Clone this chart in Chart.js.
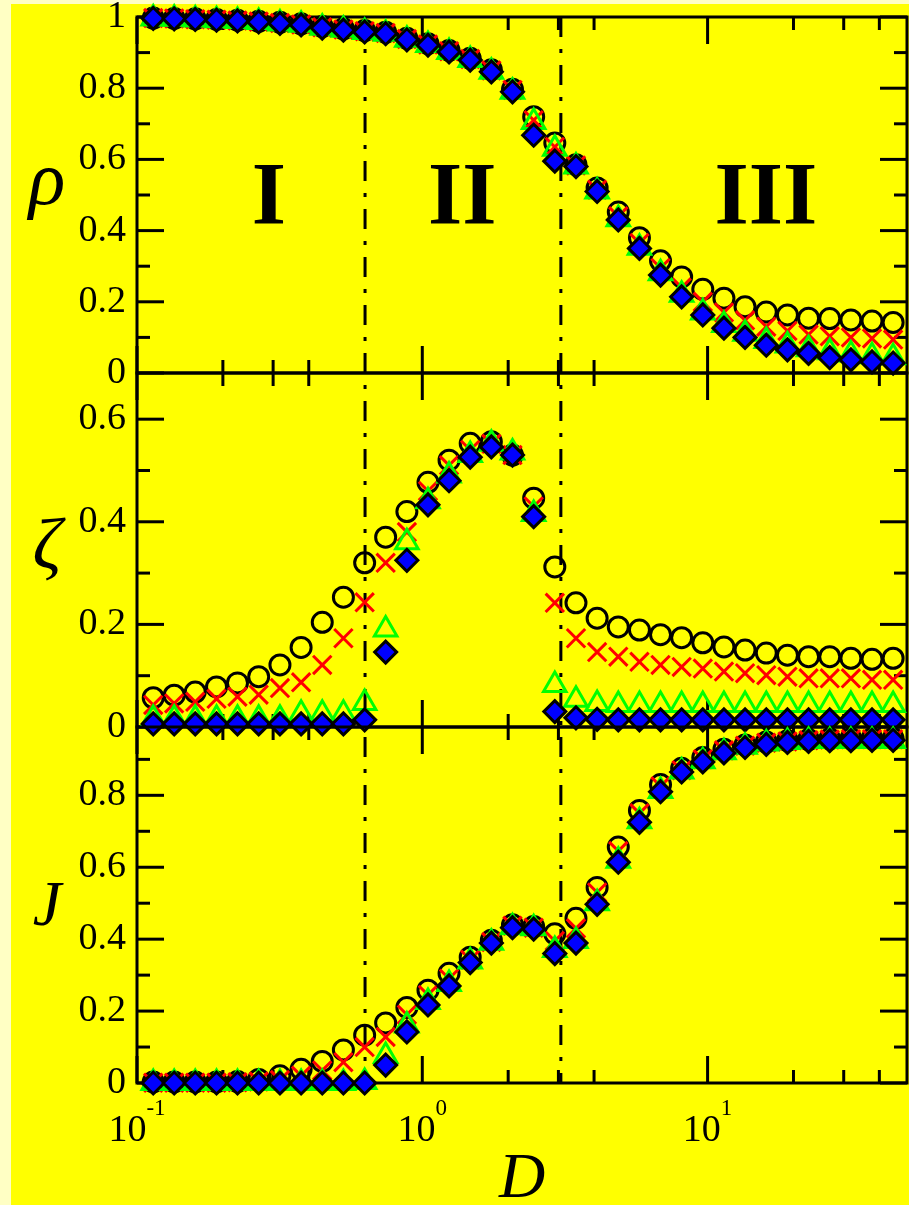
<!DOCTYPE html>
<html>
<head>
<meta charset="utf-8">
<script src="https://cdn.jsdelivr.net/npm/chart.js@4"></script>
<style>
  html, body { margin: 0; padding: 0; }
  body { width: 909px; height: 1205px; background: #ffffc4; overflow: hidden; position: relative; }
  #bg { position: absolute; left: 11px; top: 4px; right: 0; bottom: 0; background: #ffff00; }
  canvas { position: absolute; left: 0; top: -100px; }
</style>
</head>
<body>
<div id="bg"></div>
<canvas id="panelRho" width="909" height="1405"></canvas>
<canvas id="panelZeta" width="909" height="1405"></canvas>
<canvas id="panelJ" width="909" height="1405"></canvas>
<script>
// ─── data ───
const D = [0.114, 0.135, 0.160, 0.190, 0.225, 0.267, 0.317, 0.376, 0.446, 0.529,
           0.628, 0.744, 0.883, 1.047, 1.241, 1.472, 1.746, 2.071, 2.457, 2.914,
           3.457, 4.10, 4.864, 5.77, 6.84, 8.11, 9.62, 11.41, 13.53, 16.06,
           19.05, 22.59, 26.80, 31.79, 37.7, 44.7];

const rhoCircle = [0.997, 0.996, 0.995, 0.993, 0.991, 0.988, 0.985, 0.981, 0.973, 0.967,
                   0.962, 0.957, 0.94, 0.925, 0.906, 0.884, 0.852, 0.797, 0.72, 0.646,
                   0.585, 0.52, 0.452, 0.38, 0.315, 0.27, 0.235, 0.21, 0.186, 0.171,
                   0.163, 0.154, 0.153, 0.149, 0.146, 0.142];
const rhoCross = [0.997, 0.996, 0.994, 0.992, 0.99, 0.987, 0.983, 0.979, 0.971, 0.965,
                  0.96, 0.955, 0.938, 0.923, 0.904, 0.882, 0.85, 0.795, 0.71, 0.635,
                  0.583, 0.515, 0.44, 0.365, 0.295, 0.24, 0.2, 0.17, 0.148, 0.13,
                  0.118, 0.108, 0.103, 0.1, 0.097, 0.094];
const rhoTriangle = [0.996, 0.995, 0.993, 0.991, 0.989, 0.986, 0.982, 0.978, 0.97, 0.964,
                     0.958, 0.953, 0.936, 0.921, 0.902, 0.879, 0.846, 0.79, 0.705, 0.63,
                     0.58, 0.51, 0.432, 0.352, 0.28, 0.22, 0.17, 0.135, 0.11, 0.09,
                     0.077, 0.067, 0.058, 0.052, 0.047, 0.044];
const rhoDiamond = [0.996, 0.995, 0.993, 0.991, 0.989, 0.986, 0.982, 0.978, 0.969, 0.963,
                    0.958, 0.953, 0.936, 0.921, 0.902, 0.879, 0.846, 0.79, 0.668, 0.595,
                    0.58, 0.51, 0.43, 0.35, 0.275, 0.214, 0.163, 0.126, 0.10, 0.078,
                    0.065, 0.055, 0.043, 0.037, 0.031, 0.028];

const zetaCircle = [0.057, 0.062, 0.068, 0.078, 0.086, 0.098, 0.121, 0.155, 0.204, 0.253,
                    0.32, 0.37, 0.42, 0.477, 0.52, 0.553, 0.556, 0.53, 0.446, 0.312,
                    0.242, 0.212, 0.195, 0.189, 0.18, 0.174, 0.164, 0.156, 0.15, 0.144,
                    0.14, 0.137, 0.137, 0.134, 0.132, 0.134];
const zetaCross = [0.043, 0.046, 0.049, 0.055, 0.059, 0.063, 0.076, 0.087, 0.121, 0.173,
                   0.243, 0.32, 0.38, 0.46, 0.51, 0.54, 0.552, 0.53, 0.43, 0.242,
                   0.173, 0.146, 0.137, 0.127, 0.121, 0.117, 0.114, 0.108, 0.105, 0.101,
                   0.098, 0.095, 0.095, 0.095, 0.092, 0.092];
const zetaTriangle = [0.016, 0.016, 0.016, 0.016, 0.016, 0.016, 0.016, 0.026, 0.026, 0.026,
                      0.047, 0.19, 0.36, 0.44, 0.49, 0.53, 0.552, 0.535, 0.415, 0.082,
                      0.053, 0.045, 0.043, 0.043, 0.043, 0.043, 0.043, 0.043, 0.043, 0.043,
                      0.043, 0.043, 0.043, 0.043, 0.043, 0.043];
const zetaDiamond = [0.006, 0.006, 0.006, 0.006, 0.006, 0.006, 0.006, 0.006, 0.006, 0.006,
                     0.014, 0.146, 0.325, 0.433, 0.48, 0.526, 0.546, 0.53, 0.41, 0.03,
                     0.018, 0.015, 0.014, 0.014, 0.014, 0.014, 0.014, 0.014, 0.014, 0.014,
                     0.014, 0.014, 0.014, 0.014, 0.014, 0.014];

const jCircle = [0.003, 0.003, 0.003, 0.003, 0.004, 0.01, 0.02, 0.038, 0.06, 0.092,
                 0.133, 0.167, 0.21, 0.258, 0.305, 0.35, 0.397, 0.44, 0.435, 0.415,
                 0.458, 0.544, 0.656, 0.758, 0.83, 0.875, 0.905, 0.928, 0.94, 0.948,
                 0.952, 0.955, 0.957, 0.958, 0.958, 0.958];
const jCross = [0.001, 0.001, 0.001, 0.001, 0.002, 0.004, 0.008, 0.02, 0.035, 0.058,
                0.1, 0.128, 0.19, 0.245, 0.29, 0.343, 0.392, 0.437, 0.432, 0.395,
                0.43, 0.53, 0.645, 0.75, 0.825, 0.87, 0.9, 0.925, 0.938, 0.946,
                0.95, 0.953, 0.955, 0.956, 0.956, 0.956];
const jTriangle = [0, 0, 0, 0, 0, 0, 0, 0, 0, 0,
                   0.003, 0.075, 0.16, 0.225, 0.275, 0.338, 0.39, 0.433, 0.43, 0.37,
                   0.395, 0.5, 0.618, 0.728, 0.812, 0.866, 0.895, 0.92, 0.935, 0.944,
                   0.948, 0.951, 0.951, 0.951, 0.951, 0.951];
const jDiamond = [0, 0, 0, 0, 0, 0, 0, 0, 0, 0,
                  0, 0.05, 0.142, 0.217, 0.27, 0.335, 0.389, 0.432, 0.428, 0.36,
                  0.389, 0.497, 0.614, 0.725, 0.81, 0.865, 0.893, 0.918, 0.933, 0.942,
                  0.947, 0.95, 0.952, 0.952, 0.953, 0.953];

// ─── ticks ───
const xMajor = [0.1, 1, 10];
const xExponent = ['-1', '0', '1'];
const xMinor = [0.2, 0.3, 0.4, 2, 3, 4, 20, 30, 40];
const rhoTicks = [0, 0.2, 0.4, 0.6, 0.8, 1];
const rhoMinor = [0.1, 0.3, 0.5, 0.7, 0.9];
const zetaTicks = [0, 0.2, 0.4, 0.6];
const zetaMinor = [0.1, 0.3, 0.5];
const jTicks = [0, 0.2, 0.4, 0.6, 0.8];
const jMinor = [0.1, 0.3, 0.5, 0.7, 0.9];

// phase boundaries and region names
const phaseBounds = [0.63, 3.06];
const regionNames = ['I', 'II', 'III'];
const regionD = [0.29, 1.38, 16];

// ─── layout ───
const SHIFT = 100;          // canvases start 100px above the page
const CANVAS_H = 1405;
const TOP_OF_FRAME = 17;
const SERIF = '"Liberation Serif", "DejaVu Serif", serif';

const markers = [
    { pointStyle: 'circle',   radius: 10, borderColor: '#000000', backgroundColor: 'transparent' },
    { pointStyle: 'crossRot', radius: 13, borderColor: '#ff0000', backgroundColor: '#ff0000' },
    { pointStyle: 'triangle', radius: 13, borderColor: '#00ff00', backgroundColor: 'transparent' },
    { pointStyle: 'rectRot',  radius: 11, borderColor: '#000000', backgroundColor: '#0000ff' }
];

const line = (ctx, x1, y1, x2, y2) => {
    ctx.beginPath();
    ctx.moveTo(x1, y1);
    ctx.lineTo(x2, y2);
    ctx.stroke();
};

// frame, inward ticks, dash-dot boundaries, labels
const deco = {
    id: 'deco',
    beforeDatasetsDraw(chart, args, o) {
        const { ctx, chartArea: a, scales: { x, y } } = chart;
        ctx.save();
        ctx.strokeStyle = '#000';
        ctx.fillStyle = '#000';
        ctx.lineWidth = 3;

        ctx.setLineDash([20, 12, 4, 12]);
        ctx.lineDashOffset = a.top - (TOP_OF_FRAME + SHIFT);
        phaseBounds.forEach(d => {
            const px = x.getPixelForValue(d);
            line(ctx, px, a.top, px, a.bottom);
        });
        ctx.setLineDash([]);

        ctx.strokeRect(a.left, a.top, a.right - a.left, a.bottom - a.top);

        const xt = (vals, len) => vals.forEach(v => {
            const px = x.getPixelForValue(v);
            line(ctx, px, a.bottom, px, a.bottom - len);
            line(ctx, px, a.top, px, a.top + len);
        });
        const yt = (vals, len) => vals.forEach(v => {
            const py = y.getPixelForValue(v);
            line(ctx, a.left, py, a.left + len, py);
            line(ctx, a.right, py, a.right - len, py);
        });
        xt(xMajor, 27);
        xt(xMinor, 13);
        yt(o.major, 27);
        yt(o.minor, 13);

        ctx.textAlign = 'center';
        ctx.textBaseline = 'alphabetic';
        ctx.font = `italic ${o.titleSize}px ${SERIF}`;
        ctx.fillText(o.title, a.left - 90, (a.top + a.bottom) / 2 + o.titleDy);

        if (o.regions) {
            ctx.font = `bold 88px ${SERIF}`;
            regionNames.forEach((t, i) => {
                ctx.fillText(t, x.getPixelForValue(regionD[i]), y.getPixelForValue(0.42));
            });
        }

        if (o.xLabels) {
            ctx.textAlign = 'left';
            xMajor.forEach((v, i) => {
                const px = x.getPixelForValue(v);
                ctx.font = `38px ${SERIF}`;
                const wb = ctx.measureText('10').width;
                ctx.font = `23px ${SERIF}`;
                const we = ctx.measureText(xExponent[i]).width;
                const x0 = px - (wb + we) / 2;
                ctx.font = `38px ${SERIF}`;
                ctx.fillText('10', x0, a.bottom + 58);
                ctx.font = `23px ${SERIF}`;
                ctx.fillText(xExponent[i], x0 + wb, a.bottom + 32);
            });
            ctx.textAlign = 'center';
            ctx.font = `italic 64px ${SERIF}`;
            ctx.fillText('D', (a.left + a.right) / 2, a.bottom + 114);
        }
        ctx.restore();
    }
};

const panels = [
    { id: 'panelRho', top: 17, bottom: 373, max: 1, series: [rhoCircle, rhoCross, rhoTriangle, rhoDiamond],
      major: rhoTicks, minor: rhoMinor, title: 'ρ', titleSize: 76, titleDy: 9, regions: true },
    { id: 'panelZeta', top: 373, bottom: 727, max: 0.69, series: [zetaCircle, zetaCross, zetaTriangle, zetaDiamond],
      major: zetaTicks, minor: zetaMinor, title: 'ζ', titleSize: 72, titleDy: 18 },
    { id: 'panelJ', top: 727, bottom: 1083, max: 0.99, series: [jCircle, jCross, jTriangle, jDiamond],
      major: jTicks, minor: jMinor, title: 'J', titleSize: 64, titleDy: 20, xLabels: true }
];

panels.forEach(p => {
    new Chart(document.getElementById(p.id), {
        type: 'scatter',
        data: {
            datasets: p.series.map((vals, k) => ({
                data: D.map((d, i) => ({ x: d, y: vals[i] })),
                pointStyle: markers[k].pointStyle,
                pointRadius: markers[k].radius,
                pointBorderWidth: 3,
                pointBorderColor: markers[k].borderColor,
                pointBackgroundColor: markers[k].backgroundColor,
                showLine: false,
                clip: false,
                order: 4 - k
            }))
        },
        options: {
            responsive: false,
            animation: false,
            events: [],
            layout: {
                autoPadding: false,
                padding: { top: p.top + SHIFT, bottom: CANVAS_H - p.bottom - SHIFT, left: 0, right: 2 }
            },
            plugins: {
                legend: { display: false },
                tooltip: { enabled: false },
                deco: p
            },
            scales: {
                x: { type: 'logarithmic', min: 0.1, max: 50, display: false },
                y: {
                    min: 0,
                    max: p.max,
                    afterFit: s => { s.width = 137; },
                    afterBuildTicks: s => { s.ticks = p.major.map(v => ({ value: v })); },
                    grid: { display: false, drawTicks: false },
                    border: { display: false },
                    ticks: {
                        autoSkip: false,
                        padding: 11,
                        color: '#000',
                        font: { family: SERIF, size: 38 },
                        callback: v => String(+(+v).toFixed(1))
                    }
                }
            }
        },
        plugins: [deco]
    });
});
</script>
</body>
</html>
